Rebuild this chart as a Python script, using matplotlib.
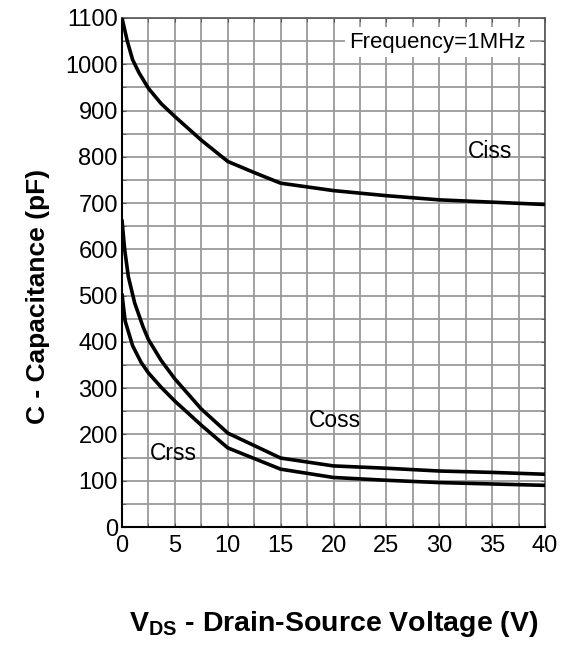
import matplotlib
matplotlib.use("Agg")
import matplotlib.pyplot as plt
import numpy as np

plt.rcParams['font.family'] = ['Liberation Sans', 'DejaVu Sans']
plt.rcParams['mathtext.fontset'] = 'custom'
plt.rcParams['mathtext.bf'] = 'Liberation Sans:bold'
plt.rcParams['mathtext.rm'] = 'Liberation Sans'

# Datos (VDS en V, capacidades en pF)
vds_ciss = [0, 0.5, 1, 1.6, 2.5, 3.7, 5, 7.5, 10, 12.5, 15, 20, 25, 30, 35, 40]
ciss = [1100, 1050, 1010, 982, 948, 915, 887, 836, 790, 766, 743, 727, 716, 707, 702, 697]

vds_coss = [0, 0.25, 0.6, 1.2, 2, 2.5, 3.7, 5, 7.5, 10, 12.5, 15, 20, 25, 30, 35, 40]
coss = [663, 600, 541, 484, 432, 405, 360, 320, 255, 203, 176, 149, 132, 127, 121, 118, 114]

vds_crss = [0, 0.3, 1, 1.8, 2.5, 3.7, 5, 7.5, 10, 12.5, 15, 20, 25, 30, 35, 40]
crss = [503, 445, 392, 356, 333, 302, 272, 220, 171, 148, 125, 107, 101, 96, 93, 90]

x_ticks = [0, 5, 10, 15, 20, 25, 30, 35, 40]
y_ticks = [0, 100, 200, 300, 400, 500, 600, 700, 800, 900, 1000, 1100]

fig = plt.figure(figsize=(5.61, 6.46), dpi=100)
ax = fig.add_axes([122/561, 1 - 527/646, (545-122)/561, (527-18)/646])

for xs, ys in ((vds_ciss, ciss), (vds_coss, coss), (vds_crss, crss)):
    ax.plot(xs, ys, color='black', lw=2.6, solid_joinstyle='round',
            solid_capstyle='round', zorder=3)

ax.set_xlim(0, 40)
ax.set_ylim(0, 1100)
ax.set_xticks(x_ticks)
ax.set_yticks(y_ticks)
ax.set_xticks(np.arange(0, 40.1, 2.5), minor=True)
ax.set_yticks(np.arange(0, 1101, 50), minor=True)
ax.grid(which='both', color='#9a9a9a', lw=1.3)
ax.set_axisbelow(True)
ax.tick_params(which='both', direction='in', length=3, labelsize=17, pad=3,
               color='#555555', top=True, right=True)
ax.tick_params(axis='x', pad=6)

for lado in ('left', 'bottom'):
    ax.spines[lado].set_color('black')
    ax.spines[lado].set_linewidth(1.5)
for lado in ('top', 'right'):
    ax.spines[lado].set_color('#555555')
    ax.spines[lado].set_linewidth(1.2)

ax.text(38.2, 1048, 'Frequency=1MHz', fontsize=16, ha='right', va='center',
        bbox=dict(facecolor='white', edgecolor='none', pad=3), zorder=4)
ax.text(34.8, 812, 'Ciss', fontsize=16.5, ha='center', va='center')
ax.text(20.1, 231, 'Coss', fontsize=16.5, ha='center', va='center')
ax.text(4.9, 158, 'Crss', fontsize=16.5, ha='center', va='center')

fig.text(38/561, 1 - 296/646, 'C - Capacitance (pF)', rotation=90, fontsize=19,
         fontweight='bold', ha='center', va='center')
fig.text(334/561, 1 - 624/646, r'$\mathbf{V_{DS}}$ - Drain-Source Voltage (V)',
         fontsize=20.5, fontweight='bold', ha='center', va='center')

fig.savefig('out.png', dpi=100)
